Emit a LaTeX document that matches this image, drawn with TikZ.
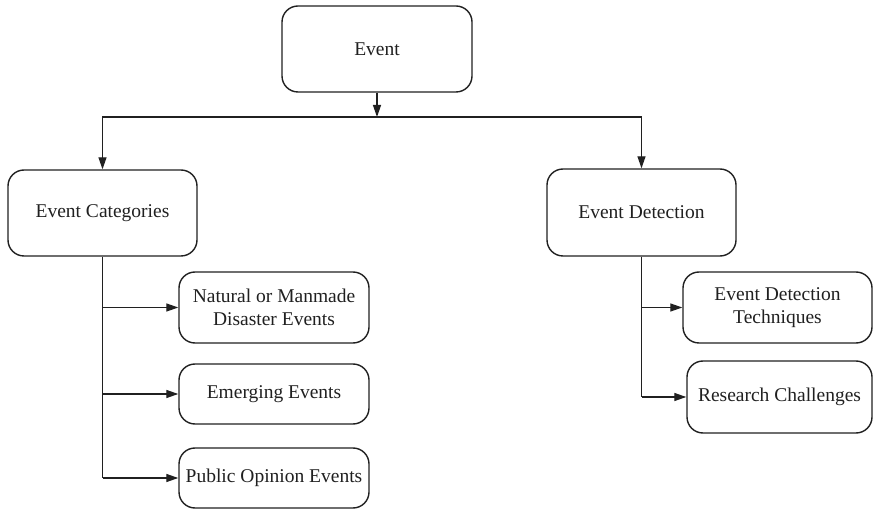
\documentclass[tikz,border=0pt]{standalone}
\usepackage{fontspec}
\setmainfont{Liberation Serif}
\newfontfamily\tnr{Liberation Serif}
\usetikzlibrary{arrows.meta}
\definecolor{ink}{HTML}{202020}
\begin{document}
\begin{tikzpicture}[x=1pt,y=-1pt,
  box/.style={draw=ink,line width=1.4pt,rounded corners=16pt,rectangle,align=center,
    text=ink,font=\tnr\fontsize{19.5}{23}\selectfont,inner sep=0pt},
  conn/.style={draw=ink,line width=1.3pt},
  arr/.style={conn,-{Triangle[length=12pt,width=8pt]}}]
\useasboundingbox (0,0) rectangle (873,510);
\node[box,minimum width=190pt,minimum height=86pt] (ev) at (377,49) {Event};
\node[box,minimum width=189pt,minimum height=86pt] (ec) at (102.5,213) {Event Categories};
\node[box,minimum width=189pt,minimum height=87pt] (ed) at (641.5,212.5) {Event Detection};
\node[box,minimum width=190pt,minimum height=71pt] (nat) at (274,307.5) {Natural or Manmade\\Disaster Events};
\node[box,minimum width=190pt,minimum height=60pt] (em) at (274,394) {Emerging Events};
\node[box,minimum width=190pt,minimum height=60pt] (po) at (274,478) {Public Opinion Events};
\node[box,minimum width=189pt,minimum height=71pt] (edt) at (777.5,307.5) {Event Detection\\Techniques};
\node[box,minimum width=185pt,minimum height=72pt] (rc) at (779.5,397) {Research Challenges};
\coordinate (j) at (377,117);
\draw[arr] (ev.south) -- (j);
\draw[arr] (j) -| (ec.north);
\draw[arr] (j) -| (ed.north);
\draw[conn] (ec.south) -- (ec.south |- po.west);
\draw[conn] (ed.south) -- (ed.south |- rc.west);
\draw[arr] (ec.south |- nat.west) -- (nat.west);
\draw[arr] (ec.south |- em.west) -- (em.west);
\draw[arr] (ec.south |- po.west) -- (po.west);
\draw[arr] (ed.south |- edt.west) -- (edt.west);
\draw[arr] (ed.south |- rc.west) -- (rc.west);
\end{tikzpicture}
\end{document}
